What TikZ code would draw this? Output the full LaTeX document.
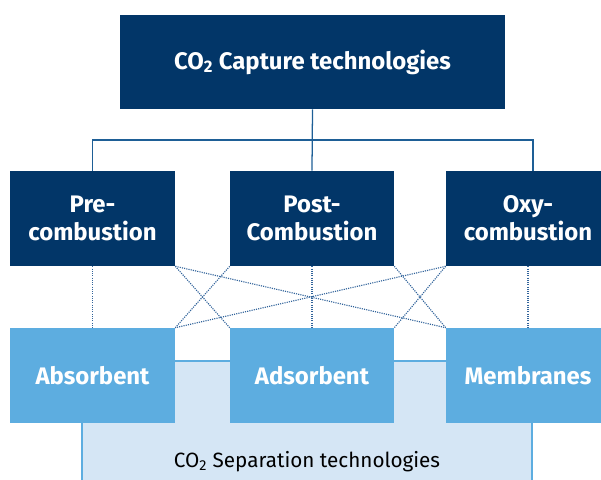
\documentclass[tikz,border=0pt]{standalone}
\usepackage{fontspec}
\setmainfont{Fira Sans}
\definecolor{navy}{RGB}{2,54,104}
\definecolor{skyblue}{RGB}{93,173,224}
\definecolor{paleblue}{RGB}{213,230,245}
\definecolor{linkblue}{RGB}{30,95,150}
\definecolor{dotblue}{RGB}{50,100,155}
\newcommand{\cotwo}{CO\textsubscript{2}}
\begin{document}
\begin{tikzpicture}[x=0.025cm, y=-0.025cm, font=\fontsize{14.7}{18}\selectfont,
          capbox/.style={fill=navy, text=white, font=\fontsize{17}{20}\selectfont\bfseries, align=center, inner sep=0pt},
          sepbox/.style={fill=skyblue, text=white, font=\fontsize{17}{20}\selectfont\bfseries, minimum width=4.125cm, minimum height=2.375cm, inner sep=0pt},
          link/.style={draw=linkblue, line width=0.9pt},
          cross/.style={draw=dotblue, line width=0.8pt, dash pattern=on 0.8pt off 0.8pt}]
        \useasboundingbox (0,0) rectangle (601,480);
        % separation panel
        \fill[paleblue] (82,361) rectangle (532,482);
        \draw[skyblue, line width=1.2pt] (82,482) -- (82,361) -- (532,361) -- (532,482);
        \node (sep) at (307,462) {\cotwo{} Separation technologies};
        % capture side
        \node[capbox, minimum width=9.625cm, minimum height=2.35cm] (cap) at (312.5,62) {\cotwo{} Capture technologies};
        \node[capbox, minimum width=4.125cm, minimum height=2.375cm] (pre) at (92.5,218.5) {Pre-\\combustion};
        \node[capbox, minimum width=4.1cm, minimum height=2.375cm] (post) at (312,218.5) {Post-\\Combustion};
        \node[capbox, minimum width=4.1cm, minimum height=2.375cm] (oxy) at (528,218.5) {Oxy-\\combustion};
        % separation side
        \node[sepbox] (abs) at (92.5,375.5) {Absorbent};
        \node[sepbox, minimum width=4.1cm] (ads) at (312,375.5) {Adsorbent};
        \node[sepbox, minimum width=4.1cm] (mem) at (528,375.5) {Membranes};
        \draw[link] (cap.south) -- (post.north);
        \draw[link] (pre.north) |- ([xshift=0.125cm]oxy.north |- 0,140) -- ([xshift=0.125cm]oxy.north);
        % dotted links
        \draw[cross] (pre.south) -- (abs.north);
        \draw[cross] (pre.south east) -- (ads.north west);
        \draw[cross] (pre.south east) -- (mem.north west);
        \draw[cross] (post.south west) -- (abs.north east);
        \draw[cross] (post.south) -- (ads.north);
        \draw[cross] (post.south east) -- (mem.north west);
        \draw[cross] (oxy.south west) -- (abs.north east);
        \draw[cross] (oxy.south west) -- (ads.north east);
        \draw[cross] (oxy.south) -- (mem.north);
      \end{tikzpicture}
\end{document}
